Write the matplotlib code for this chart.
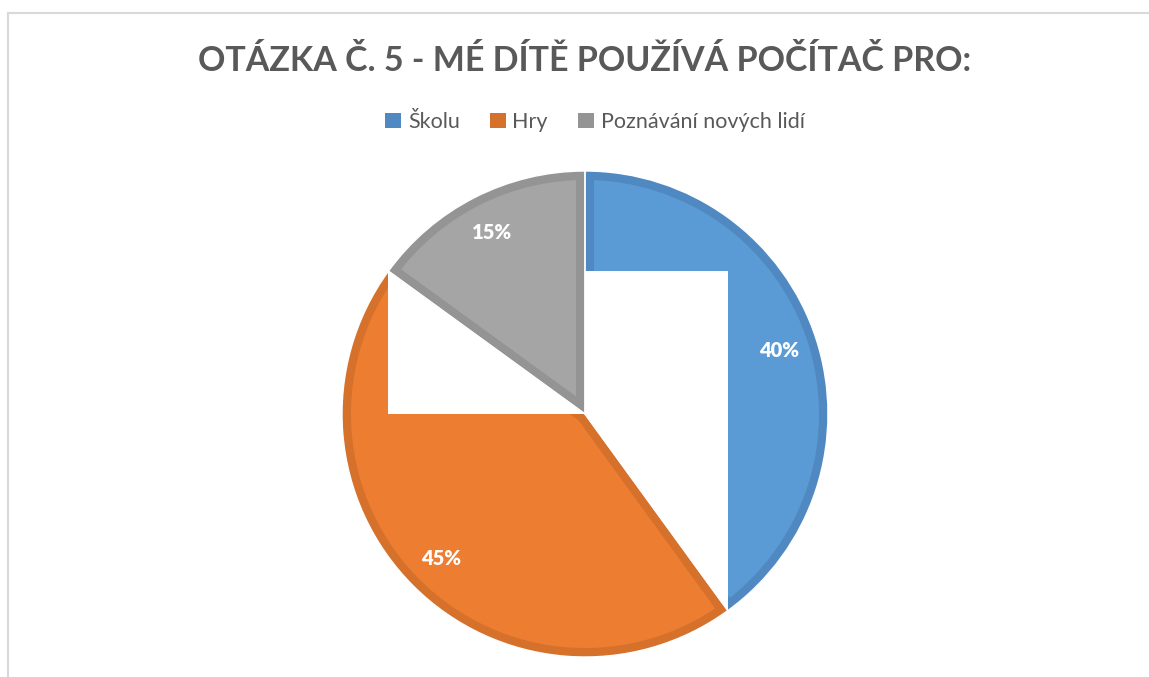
import matplotlib
matplotlib.use("Agg")
import matplotlib.pyplot as plt
from matplotlib.patches import Wedge, Rectangle, Patch
from matplotlib.lines import Line2D
import numpy as np

plt.rcParams['font.family'] = ['Lato', 'DejaVu Sans']

title = "OTÁZKA Č. 5 - MÉ DÍTĚ POUŽÍVÁ POČÍTAČ PRO:"
categories = ["Školu", "Hry", "Poznávání nových lidí"]
values = [40, 45, 15]
fill_colors = ["#5B9BD5", "#ED7D31", "#A5A5A5"]
edge_colors = ["#5089C2", "#D6712C", "#949494"]

W, H = 1149, 677
fig = plt.figure(figsize=(W / 100, H / 100), dpi=100)

# pie axes: centre (585, 414) px, radius 243 px
cx, cy, R = 585, 414, 243
ax = fig.add_axes([(cx - R) / W, (H - cy - R) / H, 2 * R / W, 2 * R / H])

wedges, texts, autotexts = ax.pie(
    values, colors=fill_colors, startangle=90, counterclock=False,
    autopct='%1.0f%%', pctdistance=0.84,
    wedgeprops=dict(edgecolor='none', linewidth=0),
    textprops=dict(color='white', fontsize=14.5, fontweight='heavy'))
ax.set_xlim(-1, 1)
ax.set_ylim(-1, 1)
ax.set_aspect('auto')
ax.axis('off')

# inner darker border on each wedge
border_px = 9
for w, ec in zip(wedges, edge_colors):
    b = Wedge(w.center, w.r, w.theta1, w.theta2, facecolor='none',
              edgecolor=ec, linewidth=2 * border_px * 72 / 100, zorder=2)
    ax.add_patch(b)
    b.set_clip_path(w)

# white rectangular cut-outs (rendering artefact in the original)
def endpoint(theta):
    t = np.deg2rad(theta)
    return np.cos(t), np.sin(t)

e_blue = endpoint(wedges[0].theta1)   # end of blue slice
e_orange = endpoint(wedges[1].theta1)  # end of orange slice
r1 = Rectangle((0, e_blue[1]), e_blue[0], e_orange[1] - e_blue[1],
               facecolor='white', edgecolor='none', zorder=3)
ax.add_patch(r1)
r1.set_clip_path(wedges[0])
r2 = Rectangle((e_orange[0], 0), -e_orange[0], e_orange[1],
               facecolor='white', edgecolor='none', zorder=3)
ax.add_patch(r2)
r2.set_clip_path(wedges[1])

# thin white separators
for w in wedges:
    s = Wedge(w.center, w.r, w.theta1, w.theta2, facecolor='none',
              edgecolor='white', linewidth=1.0, zorder=4)
    ax.add_patch(s)

for t in autotexts:
    t.set_zorder(5)

# title
fig.text(cx / W, 1 - 61 / H, title, ha='center', va='center',
         fontsize=24.5, fontweight='bold', color='#595959')

# legend
handles = [Patch(facecolor=c, edgecolor='none') for c in edge_colors]
fig.legend(handles, categories, loc='center', bbox_to_anchor=(595 / W, 1 - 122 / H),
           ncol=3, frameon=False, fontsize=15.5, handlelength=0.75, handleheight=0.75,
           handletextpad=0.3, columnspacing=1.4, labelcolor='#595959')

# chart border (top and left visible)
fig.add_artist(Line2D([8 / W, 8 / W], [0, 1 - 13 / H], transform=fig.transFigure,
                      color='#D9D9D9', linewidth=1.5))
fig.add_artist(Line2D([8 / W, 1], [1 - 13 / H, 1 - 13 / H], transform=fig.transFigure,
                      color='#D9D9D9', linewidth=1.5))

fig.savefig("out.png", dpi=100, facecolor='white')
